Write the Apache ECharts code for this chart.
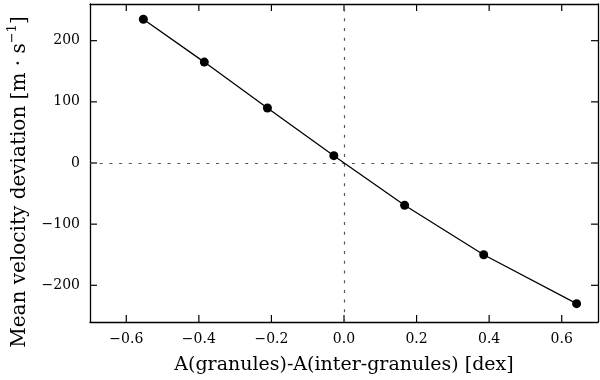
<!DOCTYPE html>
<html>
<head>
<meta charset="utf-8">
<script src="https://cdn.jsdelivr.net/npm/echarts@6/dist/echarts.min.js"></script>
<style>
  html, body { margin: 0; padding: 0; background: #fff; }
  #chart { width: 600px; height: 380px; }
</style>
</head>
<body>
<div id="chart"></div>
<script>
  // abundance difference (dex) vs mean velocity deviation (m/s)
  var xVals = [-0.553, -0.385, -0.211, -0.028, 0.167, 0.385, 0.641]
  var yVals = [235, 165, 90, 12, -69, -150, -230]
  var xTicks = [-0.6, -0.4, -0.2, 0.0, 0.2, 0.4, 0.6]
  var yTicks = [-200, -100, 0, 100, 200]

  var points = xVals.map(function (x, i) { return [x, yVals[i]] })
  var font = 'DejaVu Serif'
  var minus = function (s) { return String(s).replace('-', '\u2212') }

  var mChart = echarts.init(document.getElementById('chart'))
  var frame = { show: true, onZero: false, lineStyle: { color: '#000', width: 1.3 } }

  var option = {
    animation: false,
    grid: { left: 90, right: 2, top: 4, bottom: 58, containLabel: false, outerBoundsMode: 'none' },
    xAxis: [
      {
        type: 'value', min: -0.7, max: 0.7, interval: 0.1,
        axisLine: frame,
        axisTick: { show: false },
        splitLine: { show: false },
        axisLabel: {
          fontFamily: font, fontSize: 14, color: '#000', margin: 10,
          formatter: function (v) {
            var hit = xTicks.some(function (t) { return Math.abs(t - v) < 1e-6 })
            return hit ? minus(v.toFixed(1)) : ''
          }
        },
        name: 'A(granules)-A(inter-granules) [dex]',
        nameLocation: 'middle', nameGap: 34,
        nameTextStyle: { fontFamily: font, fontSize: 19, color: '#000' }
      },
      {
        type: 'value', position: 'top', min: -0.7, max: 0.7, interval: 0.1,
        axisLine: frame, axisLabel: { show: false }, splitLine: { show: false },
        axisTick: { show: false }
      }
    ],
    yAxis: [
      {
        type: 'value', min: -260, max: 260, interval: 20,
        axisLine: frame,
        axisTick: { show: false },
        splitLine: { show: false },
        axisLabel: {
          fontFamily: font, fontSize: 14, color: '#000', margin: 10,
          formatter: function (v) {
            return yTicks.indexOf(v) >= 0 ? minus(v) : ''
          }
        },
        name: '{a|Mean velocity deviation [m \u00b7 s}{s|\u22121}{a|]}',
        nameLocation: 'middle', nameGap: 60,
        nameTextStyle: {
          padding: [0, 38, 0, 0],
          rich: {
            a: { fontFamily: font, fontSize: 20, color: '#000', verticalAlign: 'bottom', lineHeight: 24 },
            s: { fontFamily: font, fontSize: 13, color: '#000', verticalAlign: 'top', lineHeight: 24 }
          }
        }
      },
      {
        type: 'value', position: 'right', min: -260, max: 260,
        axisLine: frame, axisLabel: { show: false }, splitLine: { show: false },
        axisTick: { show: false }
      }
    ],
    series: [
      {
        type: 'line',
        data: points,
        symbol: 'circle', symbolSize: 9,
        itemStyle: { color: '#000' },
        lineStyle: { color: '#000', width: 1.3 },
        z: 5,
        markLine: {
          silent: true, symbol: 'none', label: { show: false },
          lineStyle: { color: '#555', type: [3, 6.7], width: 1.2 },
          data: [{ xAxis: 0 }, { yAxis: 0 }]
        }
      }
    ]
  }
  mChart.setOption(option)

  // inward ticks on all four sides, placed through the axis scales
  var tickLines = []
  var tl = 7
  var sty = { stroke: '#000', lineWidth: 1.2 }
  var g = mChart.getModel().getComponent('grid').coordinateSystem.getRect()
  xTicks.forEach(function (t) {
    var px = mChart.convertToPixel({ xAxisIndex: 0 }, t)
    tickLines.push({ type: 'line', shape: { x1: px, y1: g.y + g.height, x2: px, y2: g.y + g.height - tl }, style: sty })
    tickLines.push({ type: 'line', shape: { x1: px, y1: g.y, x2: px, y2: g.y + tl }, style: sty })
  })
  yTicks.forEach(function (t) {
    var py = mChart.convertToPixel({ yAxisIndex: 0 }, t)
    tickLines.push({ type: 'line', shape: { x1: g.x, y1: py, x2: g.x + tl, y2: py }, style: sty })
    tickLines.push({ type: 'line', shape: { x1: g.x + g.width, y1: py, x2: g.x + g.width - tl, y2: py }, style: sty })
  })
  mChart.setOption({ graphic: tickLines })
</script>
</body>
</html>
